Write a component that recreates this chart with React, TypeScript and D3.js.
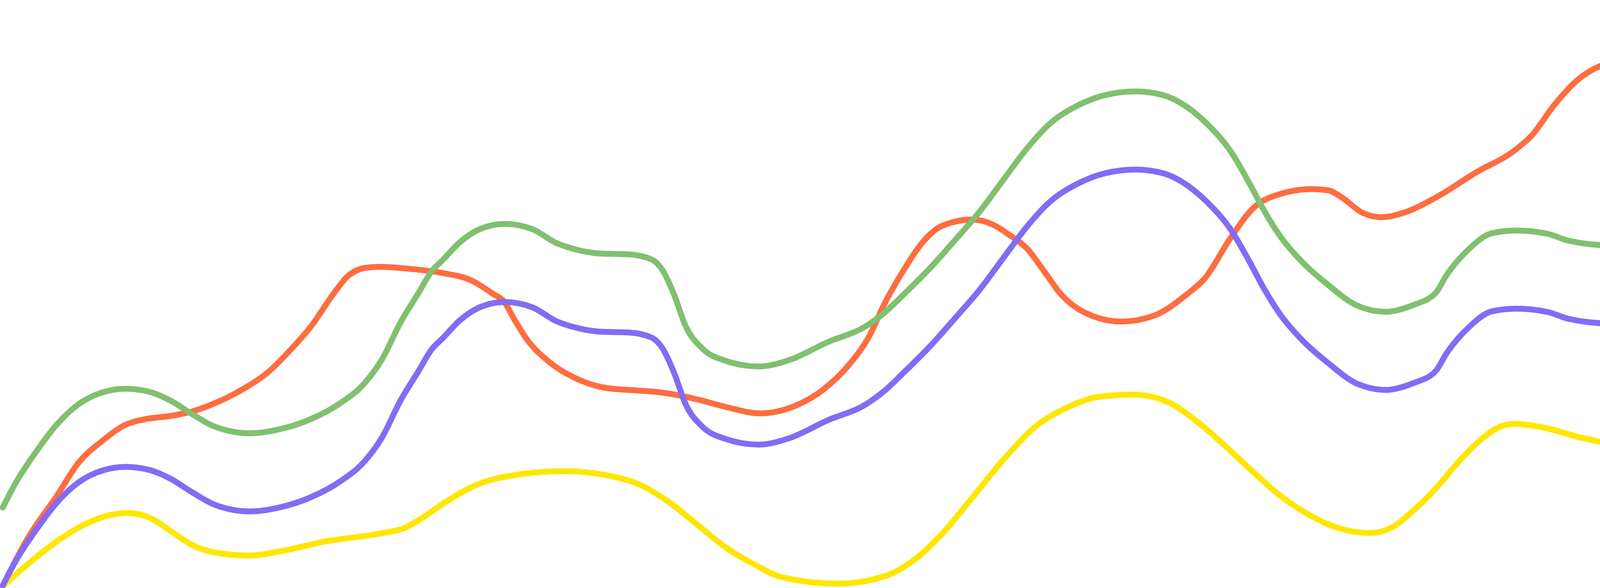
import React, { useEffect } from "react";
import * as d3 from "d3";

// Each point: [position along x, level (0 = bottom edge)]
const orangeSeries: [number, number][] = [
  [7, 6], [72, 129], [145, 235], [202, 322], [260, 375], [318, 416], [376, 433],
  [434, 440], [492, 452], [550, 473], [622, 509], [687, 553], [745, 611], [795, 668],
  [853, 752], [889, 797], [933, 819], [969, 822], [1048, 817], [1134, 806], [1205, 788],
  [1262, 753], [1292, 731], [1314, 692], [1350, 635], [1408, 577], [1480, 534],
  [1552, 512], [1625, 506], [1697, 500], [1784, 483], [1856, 464], [1946, 447],
  [2030, 464], [2109, 509], [2174, 572], [2225, 644], [2261, 721], [2318, 821],
  [2361, 884], [2412, 927], [2488, 943], [2542, 930], [2585, 903], [2629, 869],
  [2672, 812], [2715, 753], [2773, 707], [2871, 682], [2954, 697], [3040, 753],
  [3084, 792], [3149, 894], [3207, 971], [3279, 1009], [3359, 1021], [3400, 1018],
  [3436, 999], [3487, 961], [3537, 949], [3595, 961], [3675, 999], [3776, 1062],
  [3884, 1125], [3921, 1158], [3978, 1235], [4036, 1298], [4109, 1341], [4203, 1358],
  [4304, 1375], [4412, 1428], [4521, 1495],
];

const greenSeries: [number, number][] = [
  [7, 206], [43, 274], [94, 351], [145, 418], [202, 471], [260, 500], [322, 510],
  [383, 502], [434, 481], [492, 445], [550, 413], [640, 396], [723, 408], [795, 432],
  [868, 471], [933, 524], [976, 582], [1027, 683], [1070, 753], [1106, 812],
  [1134, 840], [1176, 884], [1227, 918], [1292, 932], [1364, 918], [1422, 884],
  [1480, 865], [1538, 856], [1610, 854], [1668, 841], [1697, 812], [1726, 750],
  [1755, 671], [1798, 613], [1856, 582], [1943, 567], [2022, 584], [2116, 628],
  [2218, 671], [2267, 707], [2310, 748], [2383, 821], [2448, 894], [2506, 961],
  [2571, 1048], [2629, 1125], [2686, 1187], [2759, 1235], [2831, 1262], [2907, 1271],
  [2976, 1262], [3033, 1235], [3091, 1187], [3149, 1120], [3200, 1033], [3236, 966],
  [3279, 898], [3337, 831], [3401, 775], [3472, 724], [3548, 707], [3617, 724],
  [3675, 755], [3704, 802], [3762, 869], [3819, 908], [3881, 915], [3964, 906],
  [4015, 889], [4123, 877], [4195, 879], [4268, 903], [4326, 961], [4369, 1048],
  [4412, 1168], [4448, 1240], [4485, 1281], [4524, 1292],
];

const purpleSeries: [number, number][] = [
  [7, 6], [43, 74], [94, 151], [145, 218], [202, 271], [260, 300], [322, 310],
  [383, 302], [434, 281], [492, 245], [550, 213], [640, 196], [723, 208], [795, 232],
  [868, 271], [933, 324], [976, 382], [1027, 483], [1070, 553], [1106, 612],
  [1134, 640], [1176, 684], [1227, 718], [1292, 732], [1364, 718], [1422, 684],
  [1480, 665], [1538, 656], [1610, 654], [1668, 641], [1697, 612], [1726, 550],
  [1755, 471], [1798, 413], [1856, 382], [1943, 367], [2022, 384], [2116, 428],
  [2218, 471], [2267, 507], [2310, 548], [2383, 621], [2448, 694], [2506, 761],
  [2571, 848], [2629, 925], [2686, 987], [2759, 1035], [2831, 1062], [2907, 1071],
  [2976, 1062], [3033, 1035], [3091, 987], [3149, 920], [3200, 833], [3236, 766],
  [3279, 698], [3337, 631], [3401, 575], [3472, 524], [3548, 507], [3617, 524],
  [3675, 555], [3704, 602], [3762, 669], [3819, 708], [3881, 715], [3964, 706],
  [4015, 689], [4123, 677], [4195, 679], [4268, 703], [4326, 761], [4369, 848],
  [4412, 968], [4448, 1040], [4485, 1081], [4524, 1092],
];

const yellowSeries: [number, number][] = [
  [11, 8], [72, 62], [145, 119], [217, 163], [275, 185], [325, 192], [383, 180],
  [434, 148], [492, 110], [550, 91], [640, 83], [723, 95], [832, 119], [976, 140],
  [1034, 153], [1085, 182], [1133, 215], [1220, 264], [1299, 286], [1444, 299],
  [1567, 286], [1639, 264], [1711, 221], [1784, 163], [1856, 105], [1928, 62],
  [2001, 28], [2145, 11], [2267, 31], [2339, 71], [2412, 139], [2484, 225],
  [2571, 331], [2657, 418], [2730, 461], [2817, 490], [2903, 495], [2990, 476],
  [3062, 428], [3135, 365], [3207, 298], [3279, 235], [3352, 187], [3400, 163],
  [3451, 147], [3508, 141], [3559, 153], [3617, 197], [3675, 254], [3733, 322],
  [3790, 379], [3841, 413], [3877, 420], [3950, 411], [4051, 384], [4123, 370],
  [4203, 364], [4268, 375], [4326, 418], [4376, 485], [4427, 553], [4470, 596],
  [4524, 613],
];

const seriesNames = ["orange", "yellow", "green", "purple"];
const seriesColors = ["#FF6D40", "#FFE600", "#80C070", "#836BF6"];
const seriesData = [orangeSeries, yellowSeries, greenSeries, purpleSeries];

const W = 4533;
const H = 1505;

export default function App() {
  useEffect(() => {
    document.documentElement.style.overflow = "hidden";
    document.body.style.margin = "0";
    document.body.style.overflow = "hidden";
    document.body.style.background = "#ffffff";
  }, []);

  const x = d3.scaleLinear().domain([0, 4533]).range([0, W]);
  const y = d3.scaleLinear().domain([0, 1505]).range([H, 0]);
  const line = d3
    .line<[number, number]>()
    .x((d) => x(d[0]))
    .y((d) => y(d[1]))
    .curve(d3.curveMonotoneX);

  return (
    <svg
      width={W}
      height={H}
      viewBox={`0 0 ${W} ${H}`}
      style={{ position: "fixed", left: 0, top: 0, display: "block", background: "#ffffff" }}
    >
      {seriesData.map((data, i) => (
        <path
          key={seriesNames[i]}
          d={line(data) || ""}
          fill="none"
          stroke={seriesColors[i]}
          strokeWidth={15}
          strokeLinecap="round"
          strokeLinejoin="round"
        />
      ))}
    </svg>
  );
}
